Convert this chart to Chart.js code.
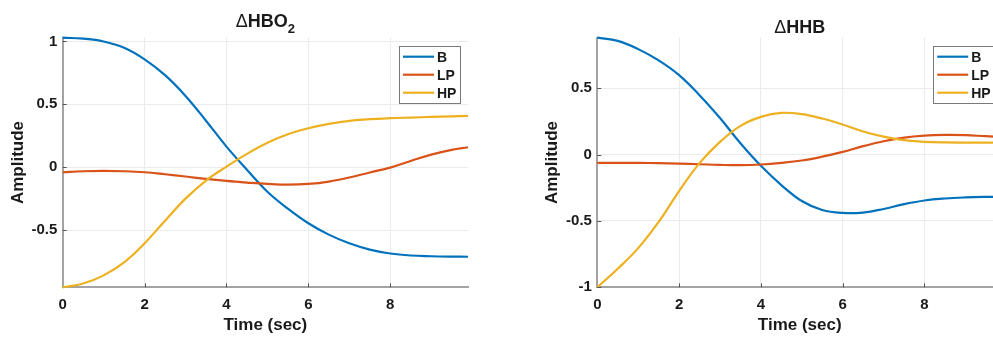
<!DOCTYPE html>
<html>
<head>
<meta charset="utf-8">
<script src="https://cdn.jsdelivr.net/npm/chart.js@4.4.1/dist/chart.umd.min.js"></script>
<style>
  html, body { margin: 0; padding: 0; background: #fff; overflow: hidden; width: 993px; height: 338px; }
  canvas { position: absolute; top: 0; }
  #hbo { left: 0; }
  #hhb { left: 500px; }
</style>
</head>
<body>
<canvas id="hbo" width="500" height="338"></canvas>
<canvas id="hhb" width="520" height="338"></canvas>
<script>
const time = [0, 0.5, 1, 1.5, 2, 2.5, 3, 3.5, 4, 4.5, 5, 5.5, 6, 6.5, 7, 7.5, 8, 8.5, 9, 9.5, 9.9];
const seriesNames = ['B', 'LP', 'HP'];
const seriesColors = ['#0072BD', '#D95319', '#EDB120'];

// oxy-haemoglobin response
const hboB  = [1.03, 1.022, 1.0, 0.95, 0.858, 0.732, 0.567, 0.37, 0.164, -0.02, -0.195, -0.33, -0.446, -0.536, -0.605, -0.655, -0.686, -0.702, -0.708, -0.711, -0.712];
const hboLP = [-0.04, -0.032, -0.029, -0.032, -0.04, -0.056, -0.074, -0.093, -0.109, -0.122, -0.133, -0.139, -0.133, -0.114, -0.082, -0.042, -0.003, 0.05, 0.1, 0.138, 0.159];
const hboHP = [-0.955, -0.925, -0.86, -0.756, -0.605, -0.425, -0.25, -0.106, 0.005, 0.106, 0.195, 0.262, 0.31, 0.345, 0.368, 0.382, 0.39, 0.395, 0.4, 0.405, 0.408];

// deoxy-haemoglobin response
const hhbB  = [0.88, 0.856, 0.794, 0.709, 0.598, 0.447, 0.275, 0.085, -0.085, -0.23, -0.35, -0.418, -0.44, -0.437, -0.41, -0.374, -0.346, -0.331, -0.323, -0.319, -0.318];
const hhbLP = [-0.063, -0.063, -0.063, -0.065, -0.068, -0.073, -0.078, -0.08, -0.075, -0.063, -0.045, -0.016, 0.02, 0.063, 0.1, 0.128, 0.143, 0.148, 0.146, 0.138, 0.133];
const hhbHP = [-1.0, -0.86, -0.705, -0.508, -0.275, -0.065, 0.095, 0.216, 0.284, 0.314, 0.304, 0.271, 0.226, 0.174, 0.135, 0.108, 0.096, 0.091, 0.09, 0.09, 0.09];

const xTicks = [0, 2, 4, 6, 8];
const hboYTicks = [-0.5, 0, 0.5, 1];
const hhbYTicks = [-1, -0.5, 0, 0.5];

Chart.defaults.font.family = '"Liberation Sans", Arial, Helvetica, sans-serif';
Chart.defaults.font.weight = 'bold';
Chart.defaults.color = '#1a1a1a';

const FONT = '"Liberation Sans", Arial, Helvetica, sans-serif';

// heading, inward tick marks and boxed legend
const decor = {
  id: 'decor',
  afterDatasetsDraw(chart, args, opts) {
    const { ctx, chartArea: a, scales: { x, y } } = chart;
    ctx.save();

    ctx.strokeStyle = '#555';
    ctx.lineWidth = 1;
    ctx.beginPath();
    x.ticks.forEach(t => {
      const px = Math.round(x.getPixelForValue(t.value)) + 0.5;
      if (px > a.left + 2) { ctx.moveTo(px, a.bottom); ctx.lineTo(px, a.bottom - 4); }
    });
    y.ticks.forEach(t => {
      const py = Math.round(y.getPixelForValue(t.value)) + 0.5;
      ctx.moveTo(a.left, py); ctx.lineTo(a.left + 4, py);
    });
    ctx.stroke();

    // title, centred over the plot area
    const parts = opts.parts;
    let total = 0;
    parts.forEach(p => {
      ctx.font = p.weight + ' ' + p.size + 'px ' + FONT;
      p.w = ctx.measureText(p.text).width;
      total += p.w;
    });
    let tx = (a.left + a.right) / 2 - total / 2;
    ctx.fillStyle = '#1a1a1a';
    ctx.textBaseline = 'alphabetic';
    ctx.textAlign = 'left';
    parts.forEach(p => {
      ctx.font = p.weight + ' ' + p.size + 'px ' + FONT;
      ctx.fillText(p.text, tx, p.base);
      tx += p.w;
    });

    // legend
    const w = 61, h = 57;
    const bx = a.right - 8 - w, by = a.top + 8;
    ctx.fillStyle = '#fff';
    ctx.fillRect(bx, by, w, h);
    ctx.strokeStyle = '#7a7a7a';
    ctx.lineWidth = 1;
    ctx.strokeRect(Math.round(bx) + 0.5, Math.round(by) + 0.5, w, h);
    ctx.font = 'bold 14px ' + FONT;
    ctx.textBaseline = 'middle';
    chart.data.datasets.forEach((ds, i) => {
      const ry = by + 11 + i * 18;
      ctx.strokeStyle = ds.borderColor;
      ctx.lineWidth = 2.2;
      ctx.beginPath();
      ctx.moveTo(bx + 4, ry);
      ctx.lineTo(bx + 35, ry);
      ctx.stroke();
      ctx.fillStyle = '#1a1a1a';
      ctx.fillText(ds.label, bx + 38, ry + 1);
    });
    ctx.restore();
  }
};

function makeChart(id, series, yTicks, titleParts, yAxisWidth, yTitlePad, rightPad) {
  const all = series.flat();
  return new Chart(document.getElementById(id), {
    type: 'line',
    data: {
      datasets: series.map((vals, i) => ({
        label: seriesNames[i],
        data: time.map((t, k) => ({ x: t, y: vals[k] })),
        borderColor: seriesColors[i],
        borderWidth: 2.2,
        pointRadius: 0,
        tension: 0.4,
        clip: 3,
        order: 2 - i
      }))
    },
    options: {
      responsive: false,
      animation: false,
      events: [],
      layout: { padding: { left: 0, right: rightPad, top: 37.7, bottom: 0 } },
      plugins: {
        legend: { display: false },
        tooltip: { enabled: false },
        decor: { parts: titleParts }
      },
      scales: {
        x: {
          type: 'linear',
          min: time[0],
          max: time[time.length - 1],
          afterBuildTicks: s => { s.ticks = xTicks.map(v => ({ value: v })); },
          afterFit: s => { s.height = 50.7; },
          grid: { color: '#ebebeb', drawTicks: false },
          border: { color: '#a3a3a3', width: 2 },
          ticks: { padding: 8.5, font: { size: 15, weight: 'bold' }, callback: v => String(v) },
          title: { display: true, text: 'Time (sec)', font: { size: 17, weight: 'bold' }, padding: { top: 0, bottom: 2.6 } }
        },
        y: {
          min: Math.min(...all),
          max: Math.max(...all),
          afterBuildTicks: s => { s.ticks = yTicks.map(v => ({ value: v })); },
          afterFit: s => { s.width = yAxisWidth; },
          grid: { color: '#ebebeb', drawTicks: false },
          border: { color: '#a3a3a3', width: 2 },
          ticks: { padding: 5.4, font: { size: 15, weight: 'bold' }, callback: v => String(v) },
          title: { display: true, text: 'Amplitude', font: { size: 17, weight: 'bold' }, padding: { top: yTitlePad, bottom: 0 } }
        }
      }
    },
    plugins: [decor]
  });
}

makeChart('hbo', [hboB, hboLP, hboHP], hboYTicks, [
  { text: 'Δ', weight: 'normal', size: 18, base: 26.7 },
  { text: 'HBO', weight: 'bold', size: 18, base: 26.7 },
  { text: '2', weight: 'bold', size: 13, base: 33.3 }
], 62.7, 8, 32);

makeChart('hhb', [hhbB, hhbLP, hhbHP], hhbYTicks, [
  { text: 'Δ', weight: 'normal', size: 18, base: 33.3 },
  { text: 'HHB', weight: 'bold', size: 18, base: 33.3 }
], 97.3, 41.7, 17.8);
</script>
</body>
</html>
